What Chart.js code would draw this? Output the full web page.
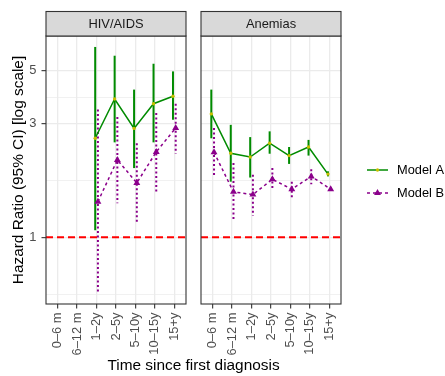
<!DOCTYPE html>
<html>
<head>
<meta charset="utf-8">
<script src="https://cdn.jsdelivr.net/npm/chart.js@4.4.1/dist/chart.umd.min.js"></script>
<style>
  body { margin: 0; background: #fff; width: 445px; height: 376px; overflow: hidden; position: relative;
         font-family: "Liberation Sans", Arial, sans-serif; }
  canvas { position: absolute; top: 0; }
  #c1 { left: 0; }
  #c2 { left: 197px; }
  #xtitle { position: absolute; left: 46px; width: 295px; top: 356px; text-align: center;
            font-size: 15.4px; line-height: 18px; color: #000; }
</style>
</head>
<body>
<canvas id="c1" width="190" height="376"></canvas>
<canvas id="c2" width="248" height="376"></canvas>
<div id="xtitle">Time since first diagnosis</div>
<script>
const categories = ['0–6 m', '6–12 m', '1–2y', '2–5y', '5–10y', '10–15y', '15+y'];
const majorBreaks = [1, 3, 5];
const minorBreaks = [0.577, 1.732, 3.873];
const refLine = 1;

// HIV/AIDS
const hivA   = [null, null, 2.60, 3.80, 2.86, 3.63, 3.90];
const hivALo = [null, null, 1.07, 2.50, 1.95, 2.50, 3.11];
const hivAHi = [null, null, 6.28, 5.77, 4.16, 5.34, 4.96];
const hivB   = [null, null, 1.41, 2.11, 1.69, 2.28, 2.87];
const hivBLo = [null, null, 0.58, 1.39, 1.15, 1.55, 2.24];
const hivBHi = [null, null, 3.43, 3.19, 2.48, 3.32, 3.63];

// Anemias
const anA   = [3.29, 2.25, 2.17, 2.48, 2.20, 2.39, 1.84];
const anALo = [2.60, 1.71, 1.78, 2.24, 2.03, 2.20, 1.80];
const anAHi = [4.16, 2.96, 2.63, 2.78, 2.39, 2.56, 1.89];
const anB   = [2.27, 1.55, 1.51, 1.75, 1.59, 1.80, 1.59];
const anBLo = [1.79, 1.17, 1.23, 1.59, 1.46, 1.67, 1.56];
const anBHi = [2.87, 2.05, 1.83, 1.95, 1.71, 1.93, 1.62];

const green = '#008B00';
const purple = '#8B008B';
const isMajor = v => majorBreaks.includes(v);

function modelA(est, lo, hi) {
  return {
    label: 'Model A',
    data: est.map((v, i) => ({ x: i - 0.07, y: v })),
    lo: lo, hi: hi, dodge: -0.07, barDash: [],
    borderColor: green, borderWidth: 1.5,
    pointStyle: 'circle', pointRadius: 1.7, pointBackgroundColor: '#c8c000', pointBorderColor: '#c8c000',
    pointBorderWidth: 0
  };
}
function modelB(est, lo, hi) {
  return {
    label: 'Model B',
    data: est.map((v, i) => ({ x: i + 0.07, y: v })),
    lo: lo, hi: hi, dodge: 0.07, barDash: [2, 2.5],
    borderColor: purple, borderWidth: 1.5, borderDash: [3, 3],
    pointStyle: 'triangle', pointRadius: 4, pointBackgroundColor: purple, pointBorderColor: purple,
    pointBorderWidth: 0
  };
}

const panelPlugin = {
  id: 'panel',
  beforeDatasetsDraw(chart) {
    const { ctx, chartArea: a, scales: { x, y } } = chart;
    ctx.save();
    ctx.beginPath();
    ctx.rect(a.left, a.top, a.right - a.left, a.bottom - a.top);
    ctx.clip();
    const y1 = y.getPixelForValue(refLine);
    ctx.strokeStyle = '#ff0000';
    ctx.lineWidth = 1.8;
    ctx.setLineDash([7, 4]);
    ctx.beginPath(); ctx.moveTo(a.left, y1); ctx.lineTo(a.right, y1); ctx.stroke();
    // confidence intervals
    chart.data.datasets.forEach(ds => {
      ctx.strokeStyle = ds.borderColor;
      ctx.lineWidth = 2;
      ctx.setLineDash(ds.barDash);
      ds.lo.forEach((lo, i) => {
        if (lo == null) return;
        const px = x.getPixelForValue(i + ds.dodge);
        ctx.beginPath();
        ctx.moveTo(px, y.getPixelForValue(ds.hi[i]));
        ctx.lineTo(px, y.getPixelForValue(lo));
        ctx.stroke();
      });
    });
    ctx.restore();
  },
  afterDraw(chart, args, opts) {
    const { ctx, chartArea: a } = chart;
    ctx.save();
    ctx.strokeStyle = '#333';
    ctx.lineWidth = 1.1;
    ctx.strokeRect(a.left, a.top, a.right - a.left, a.bottom - a.top);
    // facet strip
    const sh = 24.5;
    ctx.fillStyle = '#d9d9d9';
    ctx.fillRect(a.left, a.top - sh, a.right - a.left, sh);
    ctx.strokeRect(a.left, a.top - sh, a.right - a.left, sh);
    ctx.fillStyle = '#1a1a1a';
    ctx.font = '12.9px "Liberation Sans", Arial, sans-serif';
    ctx.textAlign = 'center';
    ctx.textBaseline = 'middle';
    ctx.fillText(opts.strip, (a.left + a.right) / 2, a.top - sh / 2 + 0.5);
    if (opts.legend) {
      chart.data.datasets.forEach((ds, k) => {
        const ly = 170 + k * 23;
        const x0 = a.right + 26, x1 = a.right + 47;
        ctx.strokeStyle = ds.borderColor;
        ctx.lineWidth = 1.5;
        ctx.setLineDash(ds.borderDash || []);
        ctx.beginPath(); ctx.moveTo(x0, ly); ctx.lineTo(x1, ly); ctx.stroke();
        ctx.setLineDash([]);
        ctx.fillStyle = ds.pointBackgroundColor;
        ctx.strokeStyle = ds.pointBackgroundColor;
        Chart.helpers.drawPoint(ctx, { pointStyle: ds.pointStyle, radius: ds.pointRadius, rotation: 0, borderWidth: 0 },
          (x0 + x1) / 2, ly);
        ctx.fillStyle = '#000';
        ctx.textAlign = 'left';
        ctx.font = '12.8px "Liberation Sans", Arial, sans-serif';
        ctx.fillText(ds.label, a.right + 56, ly + 0.5);
      });
    }
    ctx.restore();
  }
};

function makeOptions(strip, first) {
  return {
    responsive: false,
    animation: false,
    layout: { padding: { top: 36, right: first ? 1 : 104, left: 0, bottom: 0 } },
    plugins: {
      legend: { display: false },
      tooltip: { enabled: false },
      panel: { strip: strip, legend: !first }
    },
    scales: {
      x: {
        type: 'linear', min: -0.6, max: 6.6,
        afterBuildTicks: s => { s.ticks = categories.map((c, i) => ({ value: i })); },
        afterFit: s => { s.height = 72; s.paddingLeft = 0; s.paddingRight = 0; },
        ticks: {
          autoSkip: false, minRotation: 90, maxRotation: 90, padding: 4,
          color: '#4d4d4d', font: { size: 12.9 },
          callback: v => categories[v]
        },
        grid: { color: '#ebebeb', lineWidth: 1.3, tickLength: 4.5, tickColor: '#333', tickWidth: 1.1 },
        border: { display: false }
      },
      y: {
        type: 'logarithmic', min: 0.525, max: 6.98,
        afterBuildTicks: s => {
          s.ticks = minorBreaks.concat(majorBreaks).sort((p, q) => p - q).map(v => ({ value: v }));
        },
        afterFit: s => { s.width = first ? 46 : 0; s.paddingTop = 0; s.paddingBottom = 0; },
        ticks: {
          display: first, autoSkip: false, padding: 5,
          color: '#4d4d4d', font: { size: 12.9 },
          callback: v => isMajor(v) ? String(v) : ''
        },
        grid: {
          color: '#ebebeb',
          lineWidth: c => (c.tick && isMajor(c.tick.value)) ? 1.3 : 0.7,
          drawTicks: first, tickLength: 4.5, tickWidth: 1.1,
          tickColor: c => (c.tick && isMajor(c.tick.value)) ? '#333' : 'rgba(0,0,0,0)'
        },
        border: { display: false },
        title: {
          display: first, text: 'Hazard Ratio (95% CI) [log scale]', color: '#000',
          font: { size: 15.4 }, padding: { top: 10, bottom: 0 }
        }
      }
    }
  };
}

Chart.defaults.font.family = '"Liberation Sans", Arial, sans-serif';

new Chart(document.getElementById('c1'), {
  type: 'line',
  data: { datasets: [modelA(hivA, hivALo, hivAHi), modelB(hivB, hivBLo, hivBHi)] },
  options: makeOptions('HIV/AIDS', true),
  plugins: [panelPlugin]
});

new Chart(document.getElementById('c2'), {
  type: 'line',
  data: { datasets: [modelA(anA, anALo, anAHi), modelB(anB, anBLo, anBHi)] },
  options: makeOptions('Anemias', false),
  plugins: [panelPlugin]
});
</script>
</body>
</html>
